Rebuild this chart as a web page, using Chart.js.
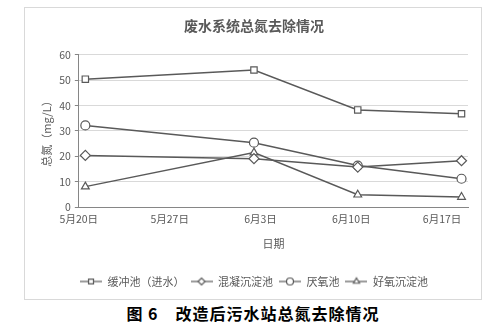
<!DOCTYPE html>
<html>
<head>
<meta charset="utf-8">
<script src="https://cdn.jsdelivr.net/npm/chart.js@4"></script>
<style>
  html, body { margin: 0; padding: 0; background: #fff; }
  body { width: 504px; height: 322px; position: relative; overflow: hidden; }
  #box { position: absolute; left: 24px; top: 7px; width: 456px; height: 291px; border: 1px solid #d9d9d9; }
  #caption { position: absolute; left: 0; width: 506px; top: 301px; text-align: center;
    font: bold 16px "Noto Sans CJK SC", sans-serif; color: #000; letter-spacing: 1px; }
</style>
</head>
<body>
<div id="box"><canvas id="chart" width="456" height="291"></canvas></div>
<div id="caption">图 6　改造后污水站总氮去除情况</div>
<script>
// start: data
const tickDays = [0, 7, 14, 21, 28];
const tickLabels = ["5月20日", "5月27日", "6月3日", "6月10日", "6月17日"];
const sampleDays = [0.5, 13.5, 21.5, 29.5];
const seriesNames = ["缓冲池（进水）", "混凝沉淀池", "厌氧池", "好氧沉淀池"];
const buffer = [50.4, 54, 38.3, 36.8];
const coag = [20.4, 19.1, 15.8, 18.3];
const anaerobic = [32.2, 25.4, 16.4, 11.2];
const aerobic = [8.1, 21.5, 4.9, 4.0];
const markers = ["rect", "rectRot", "circle", "triangle"];
// end: data

const grey = "#595959";
const font = '"Noto Sans CJK SC", sans-serif';

function points(vals) {
  return vals.map(function (v, i) { return { x: sampleDays[i], y: v }; });
}

function legendIcon(style) {
  const c = document.createElement("canvas");
  c.width = 22; c.height = 12;
  const ctx = c.getContext("2d");
  ctx.strokeStyle = grey; ctx.lineWidth = 1.2;
  ctx.beginPath(); ctx.moveTo(0, 6); ctx.lineTo(22, 6); ctx.stroke();
  ctx.fillStyle = "#fff";
  Chart.helpers.drawPoint(ctx, { pointStyle: style, radius: 3.5, borderWidth: 1 }, 11, 6);
  return c;
}

const allData = [buffer, coag, anaerobic, aerobic];

new Chart(document.getElementById("chart"), {
  type: "line",
  data: {
    datasets: allData.map(function (vals, i) {
      return {
        label: seriesNames[i],
        data: points(vals),
        borderColor: grey,
        borderWidth: 1.5,
        backgroundColor: "#fff",
        pointStyle: markers[i],
        pointRadius: markers[i] === "rectRot" ? 5 : 4.5,
        pointBorderColor: grey,
        pointBorderWidth: 1.2,
        pointBackgroundColor: "#fff",
        tension: 0,
      };
    }),
  },
  options: {
    responsive: false,
    animation: false,
    layout: { padding: { left: 15, right: 13, top: 2, bottom: 2 } },
    plugins: {
      title: {
        display: true,
        text: "废水系统总氮去除情况",
        color: grey,
        font: { family: font, size: 14, weight: "bold" },
        padding: { top: 7, bottom: 21 },
      },
      legend: {
        position: "bottom",
        labels: {
          color: grey,
          font: { family: font, size: 11 },
          usePointStyle: true,
          pointStyleWidth: 22,
          padding: 6,
          boxHeight: 12,
          generateLabels: function (chart) {
            return chart.data.datasets.map(function (ds, i) {
              return {
                text: ds.label,
                pointStyle: legendIcon(markers[i]),
                fillStyle: "#fff",
                strokeStyle: grey,
                lineWidth: 0,
                fontColor: grey,
                datasetIndex: i,
              };
            });
          },
        },
      },
      tooltip: { enabled: false },
    },
    scales: {
      x: {
        type: "linear",
        min: 0,
        max: 30,
        afterBuildTicks: function (axis) {
          axis.ticks = tickDays.map(function (d) { return { value: d }; });
        },
        ticks: {
          color: grey,
          font: { family: font, size: 10.5 },
          maxRotation: 0,
          autoSkip: false,
          padding: 2,
          callback: function (v) { return tickLabels[tickDays.indexOf(v)]; },
        },
        grid: { display: false, drawTicks: true, tickLength: 4, tickColor: "#868686" },
        border: { color: "#868686", width: 1 },
        title: {
          display: true,
          text: "日期",
          color: grey,
          font: { family: font, size: 11 },
          padding: { top: 9, bottom: 20 },
        },
      },
      y: {
        min: 0,
        max: 60,
        ticks: {
          stepSize: 10,
          color: grey,
          font: { family: font, size: 10.5 },
          padding: 4,
        },
        grid: { color: "#d9d9d9", tickLength: 4, tickColor: "#868686", drawTicks: true },
        border: { color: "#868686", width: 1 },
        title: {
          display: true,
          text: "总氮（mg/L）",
          color: grey,
          font: { family: font, size: 11 },
          padding: { top: 0, bottom: 2 },
        },
      },
    },
  },
});
</script>
</body>
</html>
